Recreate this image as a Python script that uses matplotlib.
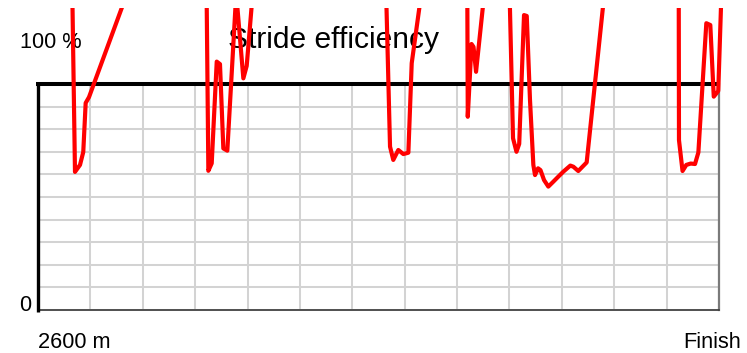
import numpy as np
import matplotlib
matplotlib.use('Agg')
import matplotlib.pyplot as plt

plt.rcParams['font.family'] = ['Liberation Sans', 'DejaVu Sans']

# distance along the race (m) and stride efficiency (%)
dist = [2632.1, 2635.3, 2640.1, 2643.2, 2645.5, 2648.7, 2700.8,
        2760.5, 2762.6, 2765.8, 2770.6, 2773.7, 2776.9, 2780.7, 2789.2,
        2796.0, 2799.2, 2808.5,
        2931.2, 2936.0, 2939.1, 2943.9, 2948.7, 2953.5, 2956.7, 2971.8,
        3009.6, 3010.2, 3013.8, 3015.7, 3018.1, 3030.5,
        3049.1, 3053.4, 3056.7, 3059.3, 3063.9, 3066.5, 3069.6, 3072.8,
        3074.4, 3077.3, 3079.6, 3083.0, 3087.1, 3091.9, 3096.6, 3101.4,
        3108.1, 3111.0, 3115.7, 3123.7, 3145.1,
        3211.5, 3211.8, 3215.2, 3218.8, 3223.0, 3227.1, 3230.3, 3237.9,
        3241.7, 3245.0, 3249.3, 3253.7]
efficiency = [160, 61.1, 64.2, 69.9, 91.6, 94.2, 160,
              160, 61.6, 64.9, 109.9, 108.8, 71.5, 70.5, 140,
              102.5, 108, 160,
              160, 72.3, 66.4, 70.8, 69.0, 69.6, 109.2, 160,
              160, 85.5, 117.7, 116.4, 105.4, 160,
              160, 76.0, 70.0, 73.5, 130.5, 130.1, 92.9, 64.2,
              59.7, 62.7, 61.9, 57.5, 54.6, 56.8, 59.0, 61.2,
              63.9, 63.4, 61.5, 65.3, 160,
              160, 75.2, 61.5, 64.2, 64.8, 64.6, 69.7, 126.9,
              126.1, 94.4, 96.9, 160]

x_start, x_end, x_step = 2600, 3250, 50
y_ticks = np.arange(0, 101, 10)

# pixel layout of the box inside the 747x353 picture
W, H = 747, 353
box_left, box_right = 38, 719
box_top, box_bottom = 84, 310
clip_top = 8

m_per_px = (x_end - x_start) / (box_right - box_left)
pct_per_px = 100 / (box_bottom - box_top)

fig = plt.figure(figsize=(W / 100, H / 100), dpi=100)
ax = fig.add_axes([0, 0, 1, (H - clip_top) / H])
ax.set_xlim(x_start - box_left * m_per_px, x_start + (W - box_left) * m_per_px)
ax.set_ylim(-(H - box_bottom) * pct_per_px, (box_bottom - clip_top) * pct_per_px)
ax.set_axis_off()

# grid
grid_x = np.arange(x_start, x_end + 1, x_step)
ax.vlines(grid_x, 0, 100, color='#d3d3d3', lw=1.45, zorder=1)
ax.hlines(y_ticks, x_start, x_end, color='#d3d3d3', lw=1.45, zorder=1)

# frame
ax.plot([x_end, x_end], [0, 100], color='#7a7a7a', lw=1.6, zorder=2)
ax.plot([x_start, x_end], [0, 0], color='#3a3a3a', lw=1.2, zorder=2)
ax.plot([x_start, x_start], [-0.8, 100], color='black', lw=2.4, zorder=3,
        solid_capstyle='butt')
ax.plot([x_start - 1.5, x_end], [100, 100], color='black', lw=2.9, zorder=3,
        solid_capstyle='butt')

# labels (drawn under the red line)
def label(px, py, s, size, ha='left'):
    ax.text(px / W, 1 - py / H, s, transform=fig.transFigure, fontsize=size,
            ha=ha, va='baseline', zorder=2, color='black')

label(334, 48, 'Stride efficiency', 21.6, ha='center')
label(20, 47.5, '100 %', 15.7)
label(31, 311, '0', 15.7, ha='right')
label(38, 348, '2600 m', 15.7)
label(741, 348, 'Finish', 15.7, ha='right')

ax.plot(dist, efficiency, color='#ff0000', lw=3.0, zorder=5)

fig.savefig('out.png', dpi=100)
